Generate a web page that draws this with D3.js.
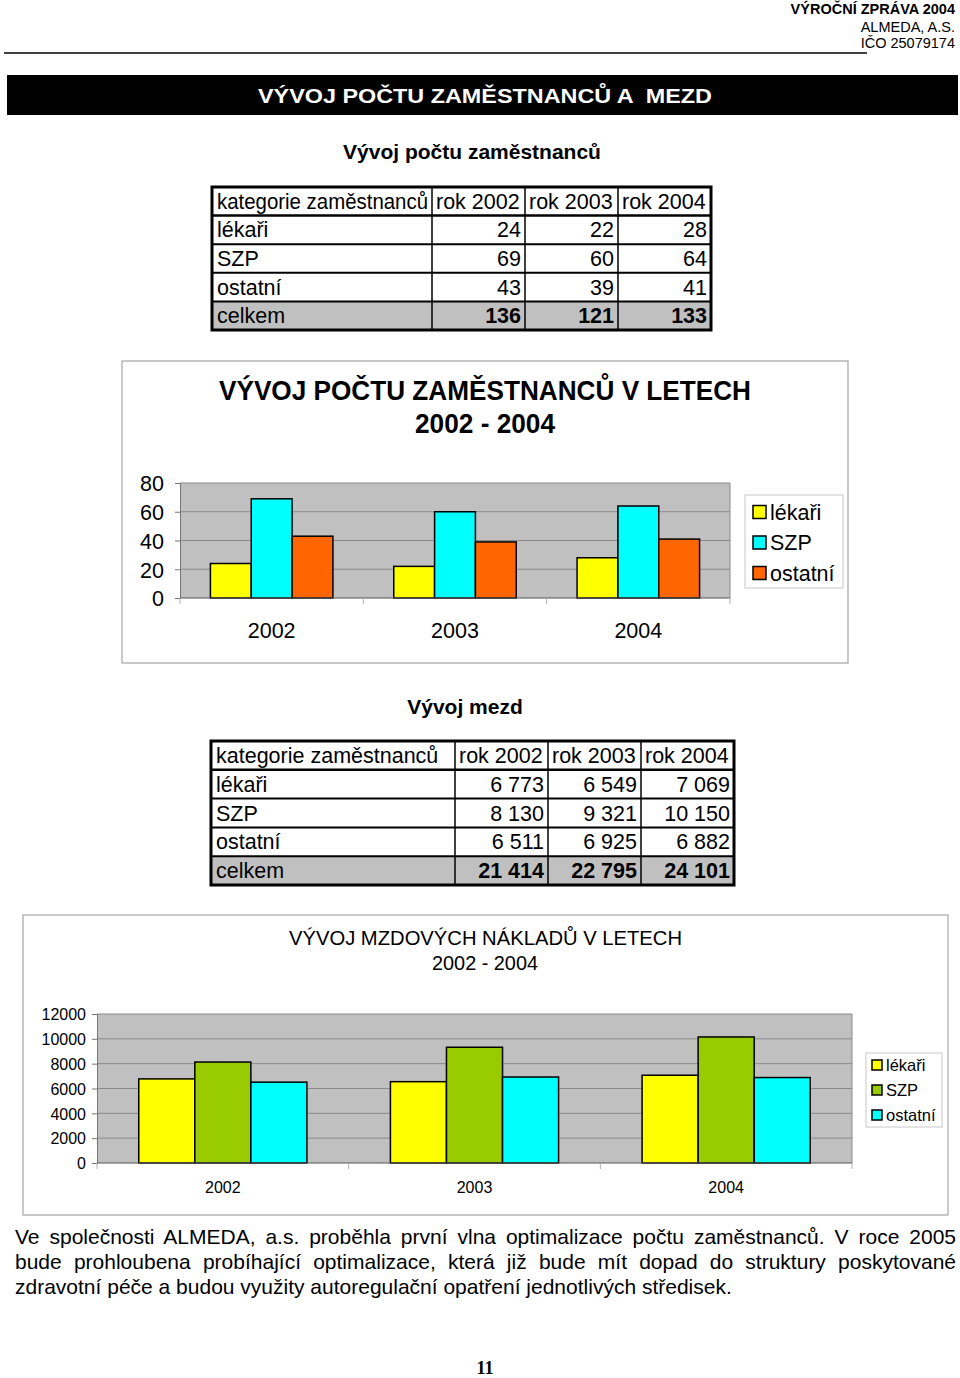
<!DOCTYPE html>
<html><head><meta charset="utf-8">
<script src="https://cdn.jsdelivr.net/npm/d3@7/dist/d3.min.js"></script>
<style>
body{margin:0;background:#fff}
svg{display:block}
text{font-family:"Liberation Sans",Arial,Helvetica,sans-serif;fill:#000}
</style>
</head><body>
<svg id="page" width="960" height="1378"></svg>
<script>
// ---------- data ----------
const years = ["2002", "2003", "2004"];
const categories = ["lékaři", "SZP", "ostatní"];
const staffLekari = [24, 22, 28];
const staffSZP = [69, 60, 64];
const staffOstatni = [43, 39, 41];
const wageLekari = [6773, 6549, 7069];
const wageSZP = [8130, 9321, 10150];
const wageOstatni = [6511, 6925, 6882];
const staffTicks = [0, 20, 40, 60, 80];
const wageTicks = [0, 2000, 4000, 6000, 8000, 10000, 12000];
const tableHeader = ["kategorie zaměstnanců", "rok 2002", "rok 2003", "rok 2004"];
const totalLabel = "celkem";
const staffColors = ["#ffff00", "#00ffff", "#ff6600"];
const wageColors = ["#ffff00", "#99cc00", "#00ffff"];
const paragraph = [
  "Ve společnosti ALMEDA, a.s. proběhla první vlna optimalizace počtu zaměstnanců. V roce 2005",
  "bude prohloubena probíhající optimalizace, která již bude mít dopad do struktury poskytované",
  "zdravotní péče a budou využity autoregulační opatření jednotlivých středisek."
];

const svg = d3.select("#page");
svg.append("rect").attr("width", 960).attr("height", 1378).attr("fill", "#fff");

// ---------- page header ----------
const hdr = [
  {t: "VÝROČNÍ ZPRÁVA 2004", y: 14, w: "bold"},
  {t: "ALMEDA, A.S.", y: 32, w: "normal"},
  {t: "IČO 25079174", y: 48, w: "normal"}
];
svg.selectAll("text.hdr").data(hdr).join("text").attr("class", "hdr")
  .attr("x", 955).attr("y", d => d.y).attr("text-anchor", "end")
  .attr("font-size", 14.5).attr("font-weight", d => d.w).text(d => d.t);
svg.append("line").attr("x1", 4).attr("x2", 867).attr("y1", 53).attr("y2", 53)
  .attr("stroke", "#000").attr("stroke-width", 1.5);

// banner
svg.append("rect").attr("x", 7).attr("y", 75).attr("width", 951).attr("height", 40).attr("fill", "#000");
svg.append("text").attr("x", 258).attr("y", 103).attr("font-size", 21).attr("font-weight", "bold")
  .attr("textLength", 454).attr("lengthAdjust", "spacingAndGlyphs")
  .style("fill", "#fff").style("white-space", "pre")
  .text("VÝVOJ POČTU ZAMĚSTNANCŮ A  MEZD");

// section titles
svg.append("text").attr("x", 472).attr("y", 159).attr("text-anchor", "middle")
  .attr("font-size", 21).attr("font-weight", "bold").text("Vývoj počtu zaměstnanců");
svg.append("text").attr("x", 465).attr("y", 714).attr("text-anchor", "middle")
  .attr("font-size", 21).attr("font-weight", "bold").text("Vývoj mezd");

// ---------- tables ----------
function drawTable(cols, top, bottom, series, fmt, headFit) {
  const g = svg.append("g");
  const nRows = series.length + 2;
  const ry = d3.scaleLinear().domain([0, nRows]).range([top, bottom]);
  const totals = years.map((_, i) => d3.sum(series, s => s[i]));
  const rows = [tableHeader,
    ...categories.map((c, k) => [c, ...series[k].map(fmt)]),
    [totalLabel, ...totals.map(fmt)]];
  g.append("rect").attr("x", cols[0]).attr("y", ry(nRows - 1)).attr("width", cols[4] - cols[0])
    .attr("height", ry(nRows) - ry(nRows - 1)).attr("fill", "#c0c0c0");
  d3.range(1, nRows).forEach(i => {
    g.append("line").attr("x1", cols[0]).attr("x2", cols[4]).attr("y1", ry(i)).attr("y2", ry(i))
      .attr("stroke", "#000").attr("stroke-width", i === 1 ? 2.5 : 2);
  });
  [1, 2, 3].forEach(j => {
    g.append("line").attr("x1", cols[j]).attr("x2", cols[j]).attr("y1", top).attr("y2", bottom)
      .attr("stroke", "#000").attr("stroke-width", 1.5);
  });
  g.append("rect").attr("x", cols[0]).attr("y", top).attr("width", cols[4] - cols[0])
    .attr("height", bottom - top).attr("fill", "none").attr("stroke", "#000").attr("stroke-width", 3);
  rows.forEach((r, i) => {
    const cy = (ry(i) + ry(i + 1)) / 2 + 7.5;
    r.forEach((v, j) => {
      const t = g.append("text").attr("y", cy).attr("font-size", 21.5)
        .attr("font-weight", (i === nRows - 1 && j > 0) ? "bold" : "normal").text(v);
      if (i === 0 || j === 0) {
        t.attr("x", cols[j] + (j === 0 ? 5 : 4));
        if (i === 0 && j === 0 && headFit) t.attr("textLength", headFit).attr("lengthAdjust", "spacingAndGlyphs");
      } else {
        t.attr("x", cols[j + 1] - 4).attr("text-anchor", "end");
      }
    });
  });
}
const fmtPlain = d => String(d);
const fmtSpace = d => d3.format(",")(d).replace(/,/g, " ");
drawTable([212, 432, 525, 618, 711], 187, 330, [staffLekari, staffSZP, staffOstatni], fmtPlain, 211);
drawTable([211, 455, 548, 641, 734], 741, 885, [wageLekari, wageSZP, wageOstatni], fmtSpace, null);

// ---------- charts ----------
function drawChart(c) {
  const g = svg.append("g");
  g.append("rect").attr("x", c.box[0]).attr("y", c.box[1]).attr("width", c.box[2] - c.box[0])
    .attr("height", c.box[3] - c.box[1]).attr("fill", "#fff").attr("stroke", "#a6a6a6").attr("stroke-width", 1.2);
  c.title.forEach(t => {
    g.append("text").attr("x", t.x).attr("y", t.y).attr("font-size", c.titleSize)
      .attr("font-weight", c.titleWeight)
      .attr("textLength", t.w).attr("lengthAdjust", "spacingAndGlyphs").text(t.text);
  });
  const y = d3.scaleLinear().domain([0, c.ticks[c.ticks.length - 1]]).range([c.plot[3], c.plot[1]]);
  const x0 = d3.scaleBand().domain(years).range([c.plot[0], c.plot[2]]).paddingInner(0).paddingOuter(0);
  const x1 = d3.scaleBand().domain(categories).range([0, x0.bandwidth()]).paddingInner(0).paddingOuter(0.745);
  g.append("rect").attr("x", c.plot[0]).attr("y", c.plot[1]).attr("width", c.plot[2] - c.plot[0])
    .attr("height", c.plot[3] - c.plot[1]).attr("fill", "#c0c0c0");
  g.selectAll("line.grid").data(c.ticks.slice(1)).join("line").attr("class", "grid")
    .attr("x1", c.plot[0]).attr("x2", c.plot[2]).attr("y1", d => y(d)).attr("y2", d => y(d))
    .attr("stroke", "#8a8a8a").attr("stroke-width", 1);
  g.append("line").attr("x1", c.plot[2]).attr("x2", c.plot[2]).attr("y1", c.plot[1]).attr("y2", c.plot[3])
    .attr("stroke", "#8a8a8a").attr("stroke-width", 1);
  const groups = g.selectAll("g.grp").data(years).join("g").attr("class", "grp")
    .attr("transform", d => `translate(${x0(d)},0)`);
  groups.selectAll("rect").data((yr, i) => categories.map((cat, k) => ({cat, k, v: c.series[k][i]})))
    .join("rect").attr("x", d => x1(d.cat)).attr("width", x1.bandwidth())
    .attr("y", d => y(d.v)).attr("height", d => y(0) - y(d.v))
    .attr("fill", d => c.colors[d.k]).attr("stroke", "#000").attr("stroke-width", 1.5);
  const ya = g.append("g").attr("transform", `translate(${c.plot[0]},0)`)
    .call(d3.axisLeft(y).tickValues(c.ticks).tickSize(5).tickPadding(c.yPad).tickFormat(d3.format("d")));
  ya.select(".domain").attr("stroke", "#777");
  ya.selectAll(".tick line").attr("stroke", "#777");
  ya.selectAll("text").attr("font-size", c.tickSize).attr("font-family", null).attr("fill", null)
    .attr("dy", "0.36em");
  g.append("line").attr("x1", c.plot[0]).attr("x2", c.plot[2]).attr("y1", y(0)).attr("y2", y(0))
    .attr("stroke", "#555").attr("stroke-width", 1.2);
  const bounds = [...years.map(d => x0(d)), x0(years[years.length - 1]) + x0.bandwidth()];
  g.selectAll("line.xt").data(bounds).join("line").attr("class", "xt")
    .attr("x1", d => d).attr("x2", d => d).attr("y1", y(0)).attr("y2", y(0) + 6)
    .attr("stroke", "#b0b0b0").attr("stroke-width", 1);
  g.selectAll("text.xl").data(years).join("text").attr("class", "xl")
    .attr("x", d => x0(d) + x0.bandwidth() / 2).attr("y", c.xLabelY).attr("text-anchor", "middle")
    .attr("font-size", c.tickSize).text(d => d);
  const L = c.legend;
  g.append("rect").attr("x", L.box[0]).attr("y", L.box[1]).attr("width", L.box[2] - L.box[0])
    .attr("height", L.box[3] - L.box[1]).attr("fill", "#fff").attr("stroke", "#c8c8c8").attr("stroke-width", 1);
  const items = g.selectAll("g.li").data(categories).join("g").attr("class", "li")
    .attr("transform", (d, i) => `translate(${L.box[0]},${L.y0 + i * L.step})`);
  items.append("rect").attr("x", L.sx).attr("y", -L.ss / 2).attr("width", L.ss).attr("height", L.ss)
    .attr("fill", (d, i) => c.colors[i]).attr("stroke", "#000").attr("stroke-width", 1.5);
  items.append("text").attr("x", L.tx).attr("y", L.fs * 0.36).attr("font-size", L.fs).text(d => d);
}

drawChart({
  box: [122, 361, 848, 663],
  title: [
    {text: "VÝVOJ POČTU ZAMĚSTNANCŮ V LETECH", x: 219, y: 400, w: 532},
    {text: "2002 - 2004", x: 415, y: 433, w: 140}
  ],
  titleSize: 27,
  titleWeight: "bold",
  plot: [180, 483, 730, 598],
  ticks: staffTicks,
  series: [staffLekari, staffSZP, staffOstatni],
  colors: staffColors,
  tickSize: 21.5,
  yPad: 11,
  xLabelY: 638,
  legend: {box: [745, 495, 843, 588], y0: 512, step: 30.5, sx: 8, ss: 13, tx: 25, fs: 21.5}
});

drawChart({
  box: [23, 915, 948, 1215],
  title: [
    {text: "VÝVOJ MZDOVÝCH NÁKLADŮ V LETECH", x: 289, y: 945, w: 393},
    {text: "2002 - 2004", x: 432, y: 970, w: 106}
  ],
  titleSize: 19.5,
  titleWeight: "normal",
  plot: [97, 1014, 852, 1163],
  ticks: wageTicks,
  series: [wageLekari, wageSZP, wageOstatni],
  colors: wageColors,
  tickSize: 16,
  yPad: 6,
  xLabelY: 1193,
  legend: {box: [866, 1053, 942, 1127], y0: 1065, step: 25, sx: 6, ss: 10, tx: 20, fs: 16.5}
});

// ---------- paragraph (justified by word spacing) ----------
paragraph.forEach((line, i) => {
  const t = svg.append("text").attr("x", 15).attr("y", 1244 + i * 25).attr("font-size", 21)
    .style("white-space", "pre").text(line);
  if (i < paragraph.length - 1) {
    const w = t.node().getComputedTextLength();
    const gaps = (line.match(/ /g) || []).length;
    t.attr("word-spacing", (941 - w) / gaps);
  }
});

// page number
svg.append("text").attr("x", 485).attr("y", 1374).attr("text-anchor", "middle")
  .attr("font-size", 18).attr("font-weight", "bold")
  .style("font-family", '"Liberation Serif","DejaVu Serif",serif').text("11");
</script>
</body></html>
